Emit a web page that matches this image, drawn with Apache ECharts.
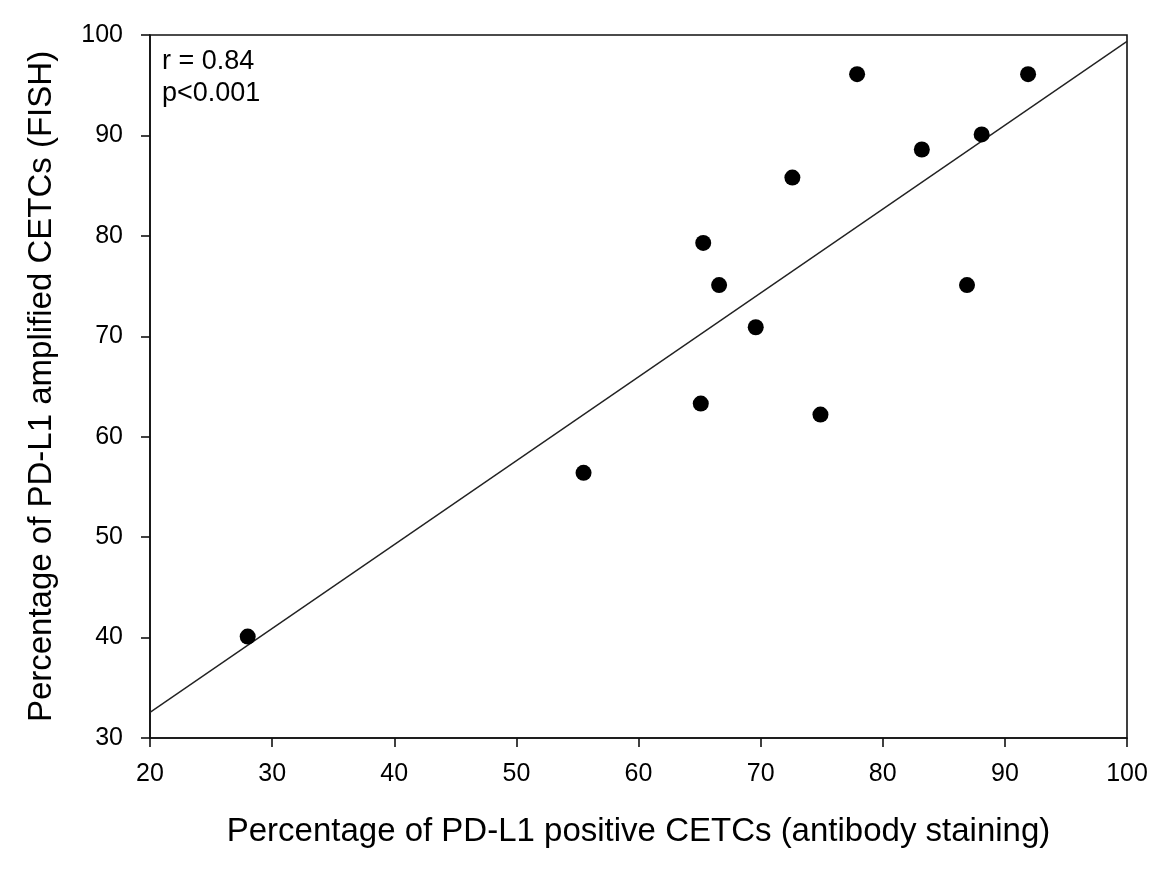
<!DOCTYPE html>
<html>
<head>
<meta charset="utf-8">
<script src="https://cdn.jsdelivr.net/npm/echarts@6/dist/echarts.min.js"></script>
<style>html,body{margin:0;padding:0;background:#fff;}#c{width:1151px;height:869px;}</style>
</head>
<body>
<div id="c"></div>
<script>
// Data
var xValues = [28.0, 55.5, 65.1, 65.3, 66.6, 69.6, 72.6, 74.9, 77.9, 83.2, 86.9, 88.1, 91.9];
var yValues = [40.1, 56.4, 63.3, 79.3, 75.1, 70.9, 85.8, 62.2, 96.1, 88.6, 75.1, 90.1, 96.1];
var xTicks = [20, 30, 40, 50, 60, 70, 80, 90, 100];
var yTicks = [30, 40, 50, 60, 70, 80, 90, 100];
var xTitle = 'Percentage of PD-L1 positive CETCs (antibody staining)';
var yTitle = 'Percentage of PD-L1 amplified CETCs (FISH)';
var statText = 'r = 0.84\np<0.001';

var points = xValues.map(function (x, i) { return [x, yValues[i]]; });
// least squares regression line
var n = xValues.length, mx = 0, my = 0;
for (var i = 0; i < n; i++) { mx += xValues[i]; my += yValues[i]; }
mx /= n; my /= n;
var sxy = 0, sxx = 0;
for (var i = 0; i < n; i++) { sxy += (xValues[i] - mx) * (yValues[i] - my); sxx += (xValues[i] - mx) * (xValues[i] - mx); }
var slope = sxy / sxx, icpt = my - slope * mx;
var xMin = xTicks[0], xMax = xTicks[xTicks.length - 1];
var linePts = [[xMin, icpt + slope * xMin], [xMax, icpt + slope * xMax]];

var font = '"Liberation Sans", Arial, sans-serif';
var chart = echarts.init(document.getElementById('c'));
chart.setOption({
  animation: false,
  backgroundColor: '#fff',
  grid: { left: 150, right: 24, top: 35, bottom: 131, show: true, borderColor: '#111', borderWidth: 1.6, backgroundColor: 'transparent' },
  xAxis: {
    type: 'value', min: xMin, max: xMax, interval: 10,
    name: xTitle, nameLocation: 'middle', nameGap: 77,
    nameTextStyle: { fontFamily: font, fontSize: 33, color: '#000' },
    axisLine: { show: true, lineStyle: { color: '#111', width: 1.6 } },
    axisTick: { show: true, length: 9, lineStyle: { color: '#111', width: 1.6 } },
    axisLabel: { fontFamily: font, fontSize: 25, color: '#000', margin: 24 },
    splitLine: { show: false }
  },
  yAxis: {
    type: 'value', min: yTicks[0], max: yTicks[yTicks.length - 1], interval: 10,
    name: yTitle, nameLocation: 'middle', nameGap: 92, nameRotate: 90,
    nameTextStyle: { fontFamily: font, fontSize: 33, color: '#000' },
    axisLine: { show: true, lineStyle: { color: '#111', width: 1.6 } },
    axisTick: { show: true, length: 9, lineStyle: { color: '#111', width: 1.6 } },
    axisLabel: { fontFamily: font, fontSize: 25, color: '#000', margin: 27 },
    splitLine: { show: false }
  },
  series: [
    {
      type: 'line', data: linePts, symbol: 'none', silent: true,
      lineStyle: { color: '#222', width: 1.4 }, z: 2
    },
    {
      type: 'scatter', data: points, symbol: 'circle', symbolSize: 16,
      itemStyle: { color: '#000', opacity: 1 }, z: 3
    }
  ],
  graphic: [{
    type: 'text', left: 162, top: 46,
    style: { text: statText, font: '27px ' + font, fill: '#000', lineHeight: 32 }
  }]
});
</script>
</body>
</html>
